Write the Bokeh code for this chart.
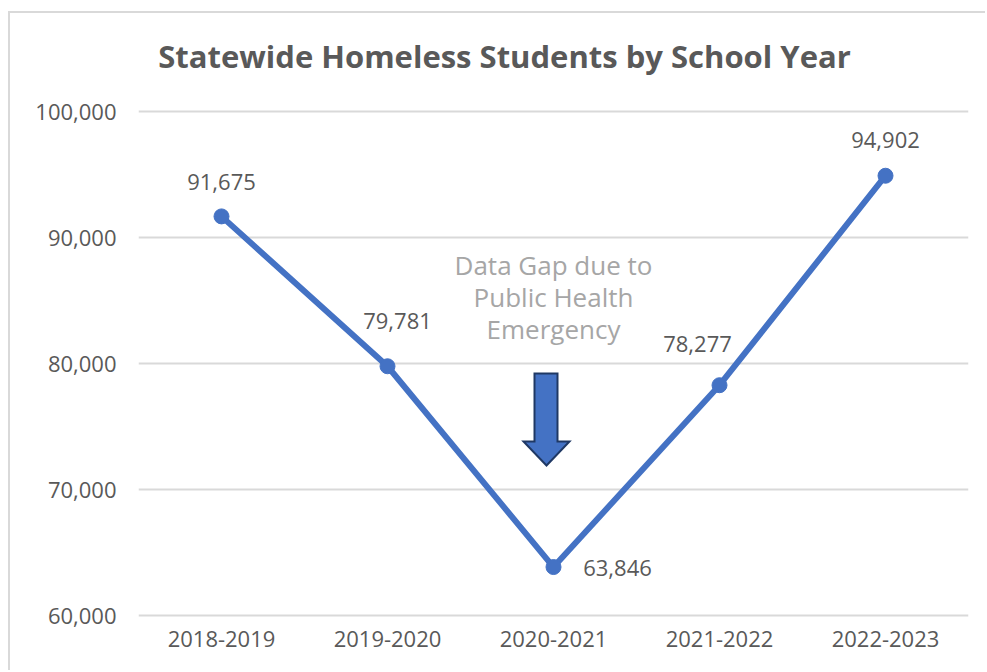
from bokeh.plotting import figure
from bokeh.models import (Range1d, FactorRange, ColumnDataSource, Label,
                          NumeralTickFormatter, FixedTicker)
from bokeh.embed import file_html
from bokeh.resources import INLINE
from bokeh.core.properties import value

# ---------------- data ----------------
years = ["2018-2019", "2019-2020", "2020-2021", "2021-2022", "2022-2023"]
students = [91675, 79781, 63846, 78277, 94902]
y_ticks = [60000, 70000, 80000, 90000, 100000]
title_text = "Statewide Homeless Students by School Year"
note_lines = ["Data Gap due to", "Public Health", "Emergency"]

# ---------------- styling ----------------
label_dx = [0, 10, 64, -22, 0]      # px offsets of the value labels
label_dy = [-34, -45, 1, -41, -36]
BLUE = "#4472C4"
TXT = "#595959"
GRID = "#D9D9D9"
FONT = "Open Sans"

# page-geometry helpers (frame: x 138..968, 100k at y=111, 10k = 126px)
def px2x(px):
    return (px - 138) / 166.0

def py2y(py):
    return 100000 - (py - 111) / 0.0126

OX, OY = 10, 13   # figure origin on the page (border drawn just outside)
FRAME_BOTTOM = 620

p = figure(width=987 - OX, height=672 - OY, title=None,
           x_range=FactorRange(factors=years, range_padding=0),
           y_range=Range1d(py2y(FRAME_BOTTOM), py2y(OY)),
           output_backend="svg", toolbar_location=None,
           min_border_left=138 - OX, min_border_right=987 - 968,
           min_border_top=0, min_border_bottom=672 - FRAME_BOTTOM)
p.margin = (OY, 0, 0, OX)
p.styles = {"box-shadow": "-2px -2px 0px 0px #D9D9D9"}

p.outline_line_color = None
p.background_fill_color = "white"
p.border_fill_color = "white"

p.xgrid.visible = False
p.ygrid.grid_line_color = GRID
p.ygrid.grid_line_width = 2
p.yaxis.ticker = FixedTicker(ticks=y_ticks)
p.yaxis.formatter = NumeralTickFormatter(format="0,0")

for ax in (p.xaxis[0], p.yaxis[0]):
    ax.axis_line_color = None
    ax.major_tick_line_color = None
    ax.minor_tick_line_color = None
    ax.major_tick_out = 0
    ax.major_tick_in = 0
    ax.major_label_text_font = FONT
    ax.major_label_text_font_size = "22px"
    ax.major_label_text_color = TXT
p.yaxis.major_label_standoff = 22
p.xaxis.major_label_standoff = 10

src = ColumnDataSource(dict(
    year=years, students=students,
    label=[f"{v:,}" for v in students],
    dx=label_dx, dy=label_dy))

p.line(x="year", y="students", source=src, line_color=BLUE, line_width=6,
       line_join="round")
p.scatter(x="year", y="students", source=src, size=15,
          fill_color=BLUE, line_color=BLUE)
p.text(x="year", y="students", text="label", source=src,
       x_offset="dx", y_offset="dy", text_align="center",
       text_baseline="middle", text_font=value(FONT),
       text_font_size="22px", text_color=TXT)

# title (inside the frame area, which reaches the top of the chart)
p.add_layout(Label(x=px2x(504), y=py2y(55), text=title_text,
                   text_align="center", text_baseline="middle",
                   text_font=FONT, text_font_style="bold",
                   text_font_size="31px", text_color=TXT))

# annotation text
for i, line in enumerate(note_lines):
    p.add_layout(Label(x=px2x(553), y=py2y(264 + 32 * i), text=line,
                       text_align="center", text_baseline="middle",
                       text_font=FONT, text_font_size="26px",
                       text_color="#A6A6A6"))

# block arrow
ax_ = [534, 557, 557, 569, 546, 523, 534]
ay_ = [373, 373, 441, 441, 465, 441, 441]
p.patch(x=[px2x(v) for v in ax_], y=[py2y(v) for v in ay_],
        fill_color=BLUE, line_color="#1F3864", line_width=2,
        line_join="miter")

open("out.html", "w").write(file_html(p, INLINE))
